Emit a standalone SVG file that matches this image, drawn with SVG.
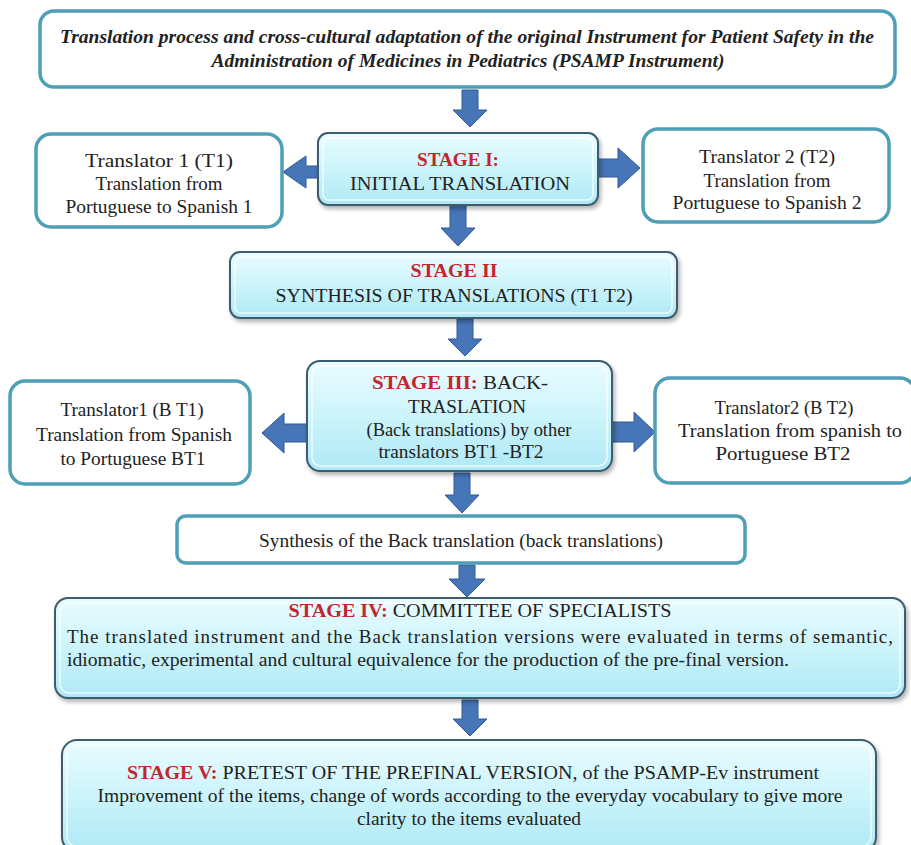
<svg xmlns="http://www.w3.org/2000/svg" width="911" height="845" viewBox="0 0 911 845" font-family="'Liberation Serif','DejaVu Serif','Times New Roman',serif">
<defs>
<linearGradient id="cyan" x1="0" y1="0" x2="0" y2="1">
<stop offset="0" stop-color="#eafcff"/>
<stop offset="0.5" stop-color="#ccf4fb"/>
<stop offset="1" stop-color="#aee9f5"/>
</linearGradient>
<filter id="sh" x="-5%" y="-10%" width="110%" height="130%">
<feDropShadow dx="2" dy="3" stdDeviation="2" flood-color="#000" flood-opacity="0.3"/>
</filter>
</defs>
<style>
.w{fill:#fff;stroke:#4f9fb6;stroke-width:3.5}
.s{fill:url(#cyan);stroke:#3d5b6e;stroke-width:2;filter:url(#sh)}
.in{fill:none;stroke:#ffffff;stroke-opacity:0.75;stroke-width:1.5}
.ar{fill:#4675b8;stroke:#2f5a94;stroke-width:1}
text{font-family:'Liberation Serif','DejaVu Serif','Times New Roman',serif;font-size:19px;fill:#222;text-anchor:middle}
.t{font-weight:bold;font-style:italic;font-size:18px}
.r{fill:#c0272d;font-weight:bold}
.l{text-anchor:start}
</style>

<g id="connectors">
<path class="ar" d="M462,90 H478 V110 H487 L470,127 L453,110 H462 Z"/>
<path class="ar" d="M318,166 H306 V156 L283,172 L306,188 V178 H318 Z"/>
<path class="ar" d="M598,159 H618 V148 L640,168 L618,188 V177 H598 Z"/>
<path class="ar" d="M450,205 H466 V228 H475 L458,246 L441,228 H450 Z"/>
<path class="ar" d="M457,319 H473 V339 H482 L465,356 L448,339 H457 Z"/>
<path class="ar" d="M307,424 H284 V413 L262,433 L284,453 V442 H307 Z"/>
<path class="ar" d="M612,422 H634 V412 L655,432 L634,452 V442 H612 Z"/>
<path class="ar" d="M454,473 H470 V495 H479 L462,513 L445,495 H454 Z"/>
<path class="ar" d="M459,565 H475 V579 H485 L467,597 L449,579 H459 Z"/>
<path class="ar" d="M462,700 H478 V719 H487 L470,736 L453,719 H462 Z"/>
</g>

<g id="title">
<rect class="w" x="40" y="11" width="855" height="76" rx="14"/>
<text class="t" x="467" y="43" textLength="814" lengthAdjust="spacingAndGlyphs">Translation process and cross-cultural adaptation of the original Instrument for Patient Safety in the</text>
<text class="t" x="468" y="67" textLength="513" lengthAdjust="spacingAndGlyphs">Administration of Medicines in Pediatrics (PSAMP Instrument)</text>
</g>

<g id="stage1">
<rect class="s" x="318" y="133" width="280" height="72" rx="10"/>
<rect class="in" x="323" y="138" width="270" height="62" rx="6"/>
<text class="r" x="458" y="166" textLength="82" lengthAdjust="spacingAndGlyphs">STAGE I:</text>
<text x="460" y="190" textLength="220" lengthAdjust="spacingAndGlyphs">INITIAL TRANSLATION</text>
</g>

<g id="t1">
<rect class="w" x="36" y="134" width="246" height="93" rx="15"/>
<text x="159" y="167" textLength="148" lengthAdjust="spacingAndGlyphs">Translator 1 (T1)</text>
<text x="159" y="190" textLength="127" lengthAdjust="spacingAndGlyphs">Translation from</text>
<text x="159" y="213" textLength="187" lengthAdjust="spacingAndGlyphs">Portuguese to Spanish 1</text>
</g>

<g id="t2">
<rect class="w" x="643" y="129" width="246" height="93" rx="15"/>
<text x="767" y="163" textLength="136" lengthAdjust="spacingAndGlyphs">Translator 2 (T2)</text>
<text x="767" y="187" textLength="127" lengthAdjust="spacingAndGlyphs">Translation from</text>
<text x="767" y="209" textLength="189" lengthAdjust="spacingAndGlyphs">Portuguese to Spanish 2</text>
</g>

<g id="stage2">
<rect class="s" x="230" y="252" width="447" height="66" rx="10"/>
<rect class="in" x="235" y="257" width="437" height="56" rx="6"/>
<text class="r" x="454" y="277" textLength="87" lengthAdjust="spacingAndGlyphs">STAGE II</text>
<text x="454" y="302" textLength="357" lengthAdjust="spacingAndGlyphs">SYNTHESIS OF TRANSLATIONS (T1 T2)</text>
</g>

<g id="stage3">
<rect class="s" x="307" y="361" width="305" height="110" rx="13"/>
<rect class="in" x="312" y="366" width="295" height="100" rx="9"/>
<text x="460" y="389" textLength="176" lengthAdjust="spacingAndGlyphs"><tspan class="r">STAGE III:</tspan>  BACK-</text>
<text x="467" y="413" textLength="118" lengthAdjust="spacingAndGlyphs">TRASLATION</text>
<text x="469" y="436" textLength="205" lengthAdjust="spacingAndGlyphs">(Back translations) by other</text>
<text x="461" y="458" textLength="165" lengthAdjust="spacingAndGlyphs">translators BT1 -BT2</text>
</g>

<g id="bt1">
<rect class="w" x="10" y="381" width="240" height="103" rx="15"/>
<text x="132" y="416" textLength="143" lengthAdjust="spacingAndGlyphs">Translator1 (B T1)</text>
<text x="134" y="441" textLength="196" lengthAdjust="spacingAndGlyphs">Translation from Spanish</text>
<text x="133" y="465" textLength="145" lengthAdjust="spacingAndGlyphs">to Portuguese BT1</text>
</g>

<g id="bt2">
<rect class="w" x="655" y="378" width="260" height="105" rx="15"/>
<text x="784" y="414" textLength="139" lengthAdjust="spacingAndGlyphs">Translator2 (B T2)</text>
<text x="790" y="437" textLength="224" lengthAdjust="spacingAndGlyphs">Translation from spanish to</text>
<text x="783" y="460" textLength="135" lengthAdjust="spacingAndGlyphs">Portuguese  BT2</text>
</g>

<g id="synthesis">
<rect class="w" x="177" y="516" width="568" height="47" rx="9"/>
<text x="461" y="547" textLength="404" lengthAdjust="spacingAndGlyphs">Synthesis  of the Back translation (back translations)</text>
</g>

<g id="stage4">
<rect class="s" x="55" y="598" width="850" height="100" rx="13"/>
<rect class="in" x="60" y="603" width="840" height="90" rx="9"/>
<text x="480" y="617" textLength="383" lengthAdjust="spacingAndGlyphs"><tspan class="r">STAGE IV:</tspan>  COMMITTEE OF SPECIALISTS</text>
<text class="l" x="67" y="643" textLength="826" lengthAdjust="spacing">The translated instrument and the Back translation versions were evaluated in terms of semantic,</text>
<text class="l" x="67" y="666" textLength="722" lengthAdjust="spacingAndGlyphs">idiomatic,  experimental and cultural equivalence  for the production  of the pre-final version.</text>
</g>

<g id="stage5">
<rect class="s" x="62" y="740" width="814" height="112" rx="15"/>
<rect class="in" x="67" y="745" width="804" height="102" rx="11"/>
<text x="473" y="779" textLength="692" lengthAdjust="spacingAndGlyphs"><tspan class="r">STAGE V:</tspan> PRETEST OF THE PREFINAL VERSION, of the PSAMP-Ev instrument</text>
<text x="470" y="802" textLength="745" lengthAdjust="spacingAndGlyphs">Improvement of the items, change of words according to the everyday vocabulary to give more</text>
<text x="469" y="825" textLength="224" lengthAdjust="spacingAndGlyphs">clarity to the items evaluated</text>
</g>
</svg>
